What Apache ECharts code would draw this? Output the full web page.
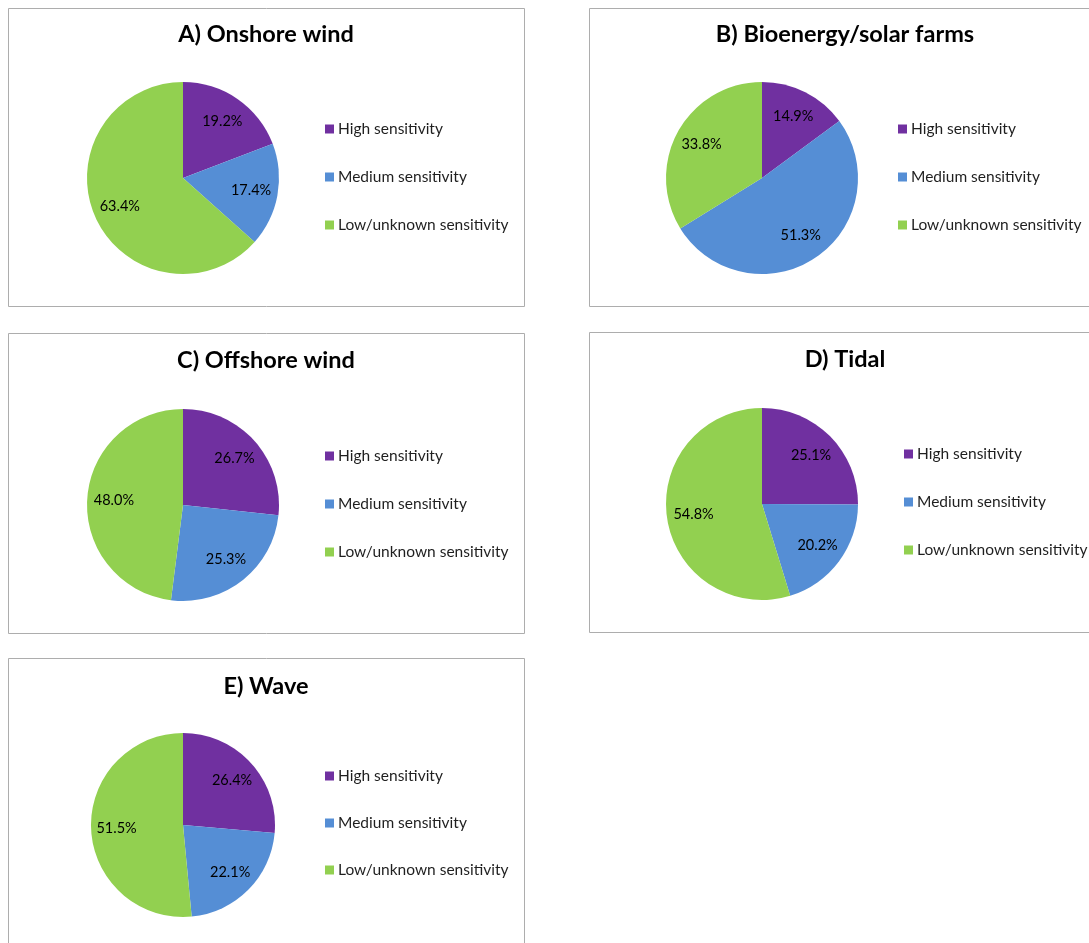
<!DOCTYPE html>
<html>
<head>
<meta charset="utf-8">
<script src="https://cdn.jsdelivr.net/npm/echarts@6/dist/echarts.min.js"></script>
<style>
html,body{margin:0;padding:0;background:#fff;}
#c{width:1089px;height:943px;}
</style>
</head>
<body>
<div id="c"></div>
<script>
// ---- data ----
var categories = ['High sensitivity', 'Medium sensitivity', 'Low/unknown sensitivity'];
var titles = ['A) Onshore wind', 'B) Bioenergy/solar farms', 'C) Offshore wind', 'D) Tidal', 'E) Wave'];
var onshoreWind = [19.2, 17.4, 63.4];
var bioenergySolar = [14.9, 51.3, 33.8];
var offshoreWind = [26.7, 25.3, 48.0];
var tidal = [25.1, 20.2, 54.8];
var wave = [26.4, 22.1, 51.5];
var colors = ['#7030A0', '#558ED5', '#92D050'];

// ---- layout (positions / styles only) ----
var panels = [
  {values: onshoreWind,    box: [8, 8, 516, 298],   cx: 183, cy: 178, r: 96, ty: 22,  lx: 325, ly: 121, lgap: 32},
  {values: bioenergySolar, box: [589, 8, 512, 298], cx: 762, cy: 178, r: 96, ty: 22,  lx: 898, ly: 121, lgap: 32},
  {values: offshoreWind,   box: [8, 333, 516, 300], cx: 183, cy: 505, r: 96, ty: 348, lx: 325, ly: 448, lgap: 32},
  {values: tidal,          box: [589, 332, 512, 300], cx: 762, cy: 504, r: 96, ty: 347, lx: 904, ly: 446, lgap: 32},
  {values: wave,           box: [8, 658, 516, 300], cx: 183, cy: 825, r: 92, ty: 674, lx: 325, ly: 768, lgap: 31}
];
var FONT = 'Lato';

var titleOpts = [], legendOpts = [], mainSeries = [], labelSeries = [], graphics = [];
panels.forEach(function (p, i) {
  graphics.push({
    type: 'rect', silent: true, z: -1,
    shape: {x: p.box[0] + 0.5, y: p.box[1] + 0.5, width: p.box[2], height: p.box[3]},
    style: {fill: '#fff', stroke: '#ADADAD', lineWidth: 1}
  });
  titleOpts.push({
    text: titles[i],
    left: p.box[0] + p.box[2] / 2, top: p.ty, textAlign: 'center', padding: 0,
    textStyle: {fontFamily: FONT, fontWeight: 'bold', fontSize: 23.5, color: '#000'}
  });
  legendOpts.push({
    orient: 'vertical', left: p.lx, top: p.ly, padding: 0,
    data: categories, icon: 'rect', itemWidth: 9, itemHeight: 9, itemGap: p.lgap,
    selectedMode: false,
    textStyle: {fontFamily: FONT, fontSize: 15.5, color: '#1f1f1f', lineHeight: 16, padding: [0, 0, 0, -1]}
  });
  var data = categories.map(function (c, k) {
    return {name: c, value: p.values[k], itemStyle: {color: colors[k]}};
  });
  mainSeries.push({
    type: 'pie', center: [p.cx, p.cy], radius: [0, p.r],
    startAngle: 90, clockwise: true, silent: true, animation: false,
    label: {show: false}, labelLine: {show: false},
    emphasis: {disabled: true},
    itemStyle: {borderWidth: 0},
    data: data
  });
  labelSeries.push({
    type: 'pie', center: [p.cx, p.cy], radius: [p.r * 0.38, p.r],
    startAngle: 90, clockwise: true, silent: true, animation: false,
    legendHoverLink: false,
    itemStyle: {color: 'rgba(0,0,0,0)', borderWidth: 0},
    label: {
      show: true, position: 'inside', color: '#000', fontFamily: FONT, fontSize: 14.5,
      formatter: function (prm) { return prm.value.toFixed(1) + '%'; }
    },
    labelLine: {show: false},
    emphasis: {disabled: true},
    data: categories.map(function (c, k) { return {name: c, value: p.values[k]}; })
  });
});

var chart = echarts.init(document.getElementById('c'), null, {renderer: 'canvas', width: 1089, height: 943});
chart.setOption({
  backgroundColor: '#fff',
  animation: false,
  color: colors,
  title: titleOpts,
  legend: legendOpts,
  graphic: graphics,
  series: mainSeries.concat(labelSeries)
});
</script>
</body>
</html>
